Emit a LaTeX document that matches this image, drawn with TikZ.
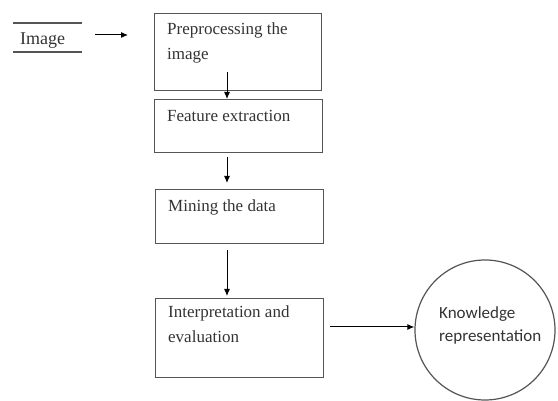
\documentclass[tikz,border=0pt]{standalone}
\usepackage{fontspec}
\setmainfont{Liberation Serif}
\newfontfamily\calib{Carlito}
\usetikzlibrary{arrows.meta,calc}
\definecolor{ln}{HTML}{555555}
\definecolor{tx}{HTML}{333333}
\begin{document}
\begin{tikzpicture}[x=1pt,y=-1pt,
  box/.style={draw=ln,line width=1.3pt,inner sep=0pt},
  lbl/.style={anchor=base west,inner sep=0pt,text=tx,font=\fontsize{17}{25}\selectfont,align=left},
  klbl/.style={anchor=base west,inner sep=0pt,text=tx,font=\calib\fontsize{17}{24}\selectfont,align=left},
  arr/.style={draw=black,line width=1pt,-{Latex[length=7pt,width=6pt]}}]
\useasboundingbox (0,0) rectangle (558,401);
% boxes
\node[box,minimum width=167pt,minimum height=77pt,anchor=north west] (b1) at (154,13) {};
\node[box,minimum width=168pt,minimum height=53pt,anchor=north west] (b2) at (154,99) {};
\node[box,minimum width=168pt,minimum height=54pt,anchor=north west] (b3) at (155,189) {};
\node[box,minimum width=168pt,minimum height=79pt,anchor=north west] (b4) at (155,298) {};
\node[draw=ln,line width=1.2pt,circle,minimum size=140pt,inner sep=0pt] (k) at (485,330) {};
% texts (base = last line)
\node[lbl] (t1) at (167,60) {Preprocessing the\\image};
\node[lbl] (t2) at (167,122) {Feature extraction};
\node[lbl] (t3) at (168,212) {Mining the data};
\node[lbl] (t4) at (168,343) {Interpretation and\\evaluation};
\node[klbl] (t5) at (439,342) {Knowledge\\representation};
\node[anchor=base west,inner sep=0pt,text=tx,font=\fontsize{18}{24}\selectfont] (img) at (20,45) {Image};
\draw[ln,line width=1.3pt] (13,23) -- (82,23);
\draw[ln,line width=1.3pt] (13,52) -- (82,52);
% connectors
\coordinate (a0) at (95,35);
\coordinate (a1) at (227,72);
\coordinate (a2) at (227,157);
\coordinate (a3) at (227,250);
\coordinate (a4) at (330,327);
\draw[arr] (a0) -- (128,35);
\draw[arr] (a1) -- (a1 |- b2.north);
\draw[arr] (a2) -- (227,183);
\draw[arr] (a3) -- (227,296);
\draw[arr] (a4) -- (a4 -| k.west);
\end{tikzpicture}
\end{document}
